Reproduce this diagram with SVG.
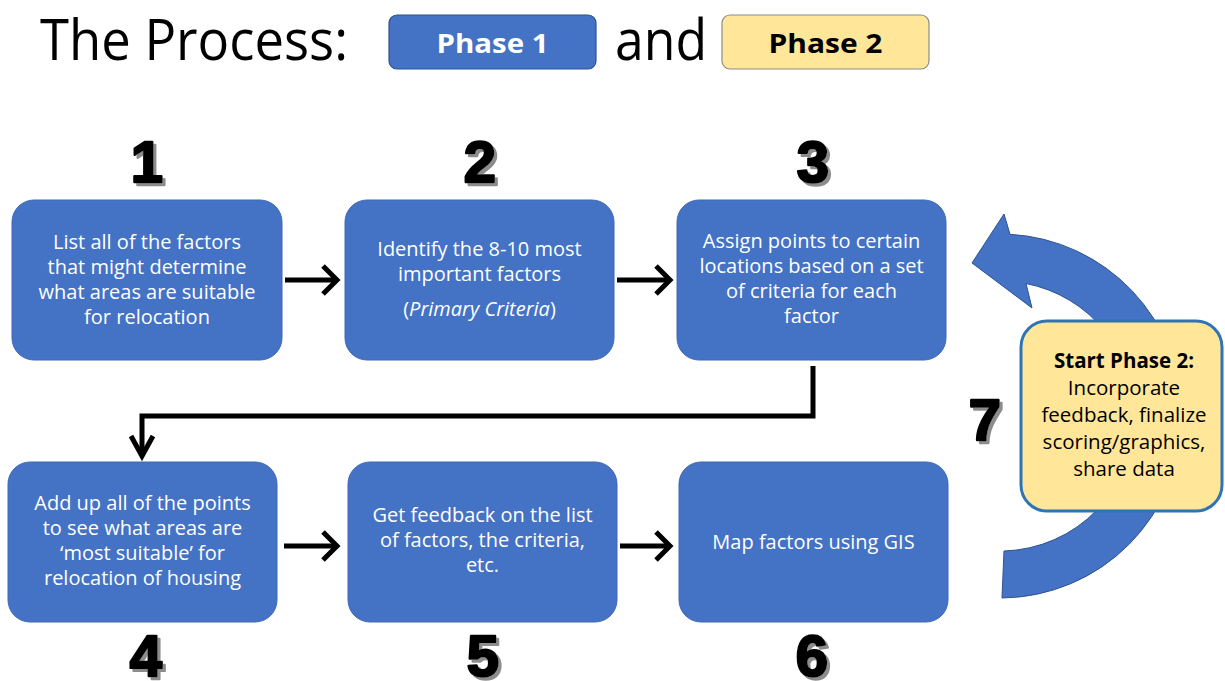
<svg xmlns="http://www.w3.org/2000/svg" width="1225" height="681" viewBox="0 0 1225 681">
<defs>
<style>
.box{fill:#4472C4;stroke:#3F68B5;stroke-width:1}
.bt{font-family:"Open Sans","Liberation Sans",sans-serif;font-size:20px;fill:#FFFFFF;text-anchor:middle}
.num{font-family:"Liberation Sans","DejaVu Sans",sans-serif;font-weight:bold;font-size:58px;text-anchor:middle;fill:#000;stroke:#000;stroke-width:2.4;stroke-linejoin:round;filter:url(#shadow)}
.title{font-family:"Open Sans","Liberation Sans",sans-serif;font-size:56px;fill:#000}
.conn{fill:none;stroke:#000;stroke-width:5;stroke-linejoin:miter}
.yt{font-family:"Open Sans","Liberation Sans",sans-serif;font-size:20.5px;fill:#000;text-anchor:middle}
</style>
<filter id="shadow" x="-20%" y="-20%" width="150%" height="150%">
<feOffset in="SourceAlpha" dx="3" dy="3" result="off"/>
<feFlood flood-color="#8C8C8C"/>
<feComposite in2="off" operator="in" result="sh"/>
<feMerge><feMergeNode in="sh"/><feMergeNode in="SourceGraphic"/></feMerge>
</filter>
</defs>
<rect width="1225" height="681" fill="#FFFFFF"/>

<g id="header">
<text class="title" x="40" y="60" textLength="308" lengthAdjust="spacingAndGlyphs">The Process:</text>
<rect x="389" y="15" width="207" height="54" rx="8" fill="#4472C4" stroke="#2F528F" stroke-width="1.2"/>
<text x="492.5" y="53" font-family="'Open Sans','Liberation Sans',sans-serif" font-weight="bold" font-size="27" fill="#FFFFFF" text-anchor="middle" textLength="112" lengthAdjust="spacingAndGlyphs">Phase 1</text>
<text class="title" x="615" y="60" textLength="92" lengthAdjust="spacingAndGlyphs">and</text>
<rect x="722" y="15" width="207" height="54" rx="8" fill="#FFE699" stroke="#8C8C8C" stroke-width="1.2"/>
<text x="825.5" y="53" font-family="'Open Sans','Liberation Sans',sans-serif" font-weight="bold" font-size="27" fill="#000000" text-anchor="middle" textLength="114" lengthAdjust="spacingAndGlyphs">Phase 2</text>
</g>

<g id="cycle-arrow">
<path d="M1002 598 A182 182 0 0 0 1182 416 A182 182 0 0 0 1010 234.3 L1004 214 L972 263 L1032 308 L1026 283.5 A135 135 0 0 1 1135 416 A135 135 0 0 1 1004 551 Z" fill="#4472C4" stroke="#2F528F" stroke-width="1"/>
</g>

<g id="connectors">
<path class="conn" d="M285 280 H337"/>
<path class="conn" d="M323 266 L337 280 L323 294"/>
<path class="conn" d="M617 280 H670"/>
<path class="conn" d="M656 266 L670 280 L656 294"/>
<path class="conn" d="M284 546 H337"/>
<path class="conn" d="M323 532 L337 546 L323 560"/>
<path class="conn" d="M620 546 H670"/>
<path class="conn" d="M656 532 L670 546 L656 560"/>
<path class="conn" d="M813 366 V416 H142 V456"/>
<path class="conn" d="M131 436 L142 456 L153 436"/>
</g>

<g id="node1">
<rect class="box" x="12" y="200" width="270" height="160" rx="22"/>
<text class="bt" x="147" y="249">List all of the factors</text>
<text class="bt" x="147" y="274">that might determine</text>
<text class="bt" x="147" y="299">what areas are suitable</text>
<text class="bt" x="147" y="324">for relocation</text>
<text class="num" x="147" y="182">1</text>
</g>

<g id="node2">
<rect class="box" x="345" y="200" width="269" height="160" rx="22"/>
<text class="bt" x="479.5" y="256">Identify the 8-10 most</text>
<text class="bt" x="479.5" y="281">important factors</text>
<text class="bt" x="479.5" y="316">(<tspan font-style="italic">Primary Criteria</tspan>)</text>
<text class="num" x="480" y="182">2</text>
</g>

<g id="node3">
<rect class="box" x="677" y="200" width="269" height="160" rx="22"/>
<text class="bt" x="811.5" y="248">Assign points to certain</text>
<text class="bt" x="811.5" y="273">locations based on a set</text>
<text class="bt" x="811.5" y="298">of criteria for each</text>
<text class="bt" x="811.5" y="323">factor</text>
<text class="num" x="813" y="182">3</text>
</g>

<g id="node4">
<rect class="box" x="8" y="462" width="269" height="160" rx="22"/>
<text class="bt" x="142.5" y="510">Add up all of the points</text>
<text class="bt" x="142.5" y="535">to see what areas are</text>
<text class="bt" x="142.5" y="560">‘most suitable’ for</text>
<text class="bt" x="142.5" y="585">relocation of housing</text>
<text class="num" x="146" y="676">4</text>
</g>

<g id="node5">
<rect class="box" x="348" y="462" width="269" height="160" rx="22"/>
<text class="bt" x="482.5" y="522">Get feedback on the list</text>
<text class="bt" x="482.5" y="547">of factors, the criteria,</text>
<text class="bt" x="482.5" y="572">etc.</text>
<text class="num" x="483" y="676">5</text>
</g>

<g id="node6">
<rect class="box" x="679" y="462" width="269" height="160" rx="22"/>
<text class="bt" x="813.5" y="549">Map factors using GIS</text>
<text class="num" x="812" y="676">6</text>
</g>

<g id="node7">
<rect x="1021" y="321" width="201" height="190" rx="26" fill="#FFE699" stroke="#2E75B6" stroke-width="3"/>
<text class="yt" x="1124" y="368" font-weight="bold">Start Phase 2:</text>
<text class="yt" x="1124" y="395">Incorporate</text>
<text class="yt" x="1124" y="422">feedback, finalize</text>
<text class="yt" x="1124" y="449">scoring/graphics,</text>
<text class="yt" x="1124" y="476">share data</text>
<text class="num" x="985" y="440">7</text>
</g>
</svg>
